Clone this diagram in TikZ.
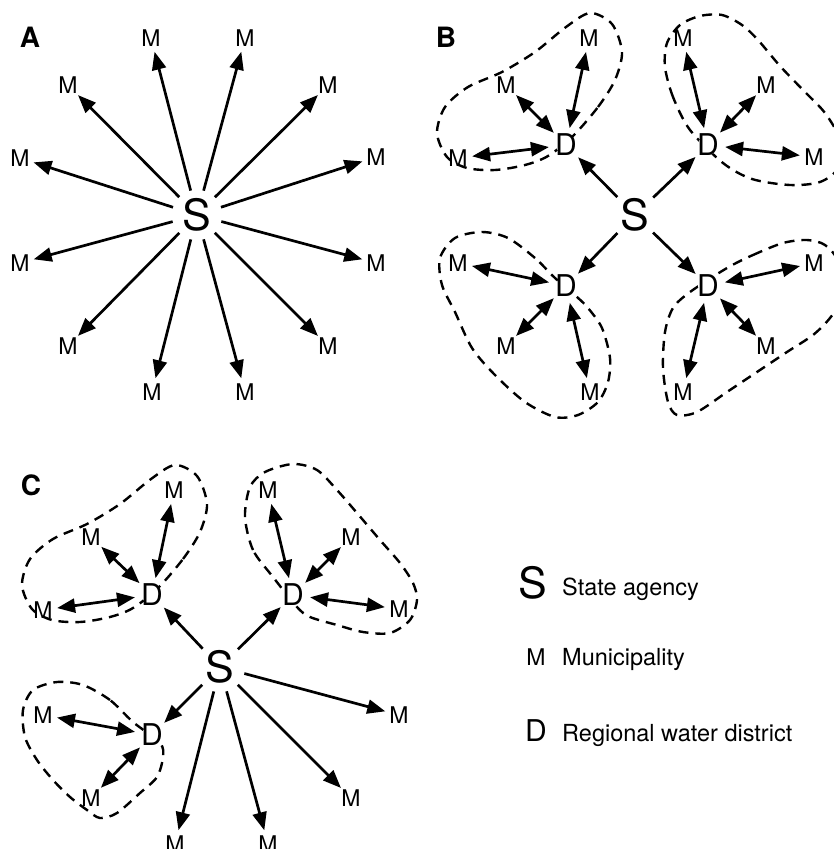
\documentclass[tikz,border=0pt]{standalone}
\usepackage{fontspec}
\setmainfont{TeX Gyre Heros}
\usetikzlibrary{arrows.meta}
\pgfdeclarelayer{back}
\pgfsetlayers{back,main}

\tikzset{
  agency/.style={circle, inner sep=0pt, minimum size=50pt, font=\fontsize{43}{43}\selectfont},
  muni/.style={circle, inner sep=0pt, minimum size=28pt, font=\fontsize{23}{23}\selectfont},
  district/.style={circle, inner sep=0pt, minimum size=34pt, font=\fontsize{30}{30}\selectfont},
  panel/.style={inner sep=0pt, font=\fontsize{28}{28}\selectfont\bfseries},
  tip/.tip={Triangle[length=18pt,width=14pt]},
  oneway/.style={line width=2.7pt, -tip},
  twoway/.style={line width=2.7pt, tip-tip},
  region/.style={line width=2.4pt, dash pattern=on 10pt off 7pt},
  keysym/.style={inner sep=0pt},
  keytext/.style={anchor=base west, inner sep=0pt, font=\fontsize{23.5}{23.5}\selectfont},
}

% municipality positions around a state agency placed at the origin
\def\munilist{1/-46/-177, 2/48/-177, 3/-129/-130, 4/131/-130, 5/-177/-57, 6/179/-58,
  7/-177/48, 8/179/48, 9/-129/131, 10/131/131, 11/-45/177, 12/48/177}

\begin{document}
\begin{tikzpicture}[x=1pt,y=-1pt]
\useasboundingbox (0,0) rectangle (833,849);

% ---------------- A: state agency linked to every municipality
\node[panel] (labA) at (30,37) {A};
\begin{scope}[shift={(197,215)}]
  \node[agency] (aS) at (0,0) {S};
  \foreach \i/\x/\y in \munilist {
    \node[muni] (aM\i) at (\x,\y) {M};
    \draw[oneway] (aS) -- (aM\i);
  }
\end{scope}

% ---------------- B: four regional water districts
\node[panel] (labB) at (446,37) {B};
\begin{scope}[shift={(635,215)}]
  \node[agency] (bS) at (0,0) {S};
  \node[district] (bD1) at (-69,-70) {D};
  \node[district] (bD2) at (73,-70) {D};
  \node[district] (bD3) at (-69,71) {D};
  \node[district] (bD4) at (73,71) {D};
  \foreach \i/\x/\y in \munilist {
    \node[muni] (bM\i) at (\x,\y) {M};
  }
  \foreach \d in {1,2,3,4} \draw[oneway] (bS) -- (bD\d);
  \foreach \d/\m in {1/1,1/3,1/5, 2/2,2/4,2/6, 3/7,3/9,3/11, 4/8,4/10,4/12}
    \draw[twoway] (bD\d) -- (bM\m);
  \begin{pgfonlayer}{back}
    \draw[region] plot[smooth cycle] coordinates {(-62,-79) (-37,-108) (-20,-135) (-13,-163)
      (-23,-191) (-45,-202) (-69,-188) (-100,-163) (-133,-143) (-167,-128) (-190,-108)
      (-198,-82) (-188,-58) (-168,-47) (-140,-45) (-110,-50) (-87,-59)};
    \draw[region] plot[smooth cycle] coordinates {(55,-85) (38,-118) (30,-148) (32,-172)
      (45,-190) (65,-199) (87,-200) (107,-190) (123,-175) (145,-149) (168,-125)
      (190,-102) (205,-75) (203,-47) (185,-33) (155,-30) (117,-36) (88,-52)};
    \draw[region] plot[smooth cycle] coordinates {(-80,63) (-100,43) (-127,23) (-153,17)
      (-180,23) (-195,43) (-193,70) (-180,97) (-163,133) (-140,160) (-110,187)
      (-80,202) (-57,200) (-37,187) (-27,167) (-25,143) (-33,113) (-47,93) (-58,82)};
    \draw[region] plot[smooth cycle] coordinates {(92,53) (118,40) (148,28) (172,25)
      (190,30) (203,47) (205,85) (195,103) (178,120) (152,137) (122,157) (92,177)
      (62,197) (42,200) (33,187) (28,153) (30,117) (38,93) (55,77)};
    \foreach \d in {1,2,3,4} \fill[white] (bD\d) circle (10);
  \end{pgfonlayer}
\end{scope}

% ---------------- C: three districts, the rest linked directly
\node[panel] (labC) at (31,485) {C};
\begin{scope}[shift={(220,667)}]
  \node[agency] (cS) at (0,0) {S};
  \node[district] (cD1) at (-68,-72) {D};
  \node[district] (cD2) at (73,-72) {D};
  \node[district] (cD3) at (-68,68) {D};
  \foreach \i/\x/\y in \munilist {
    \node[muni] (cM\i) at (\x,\y) {M};
  }
  \foreach \d in {1,2,3} \draw[oneway] (cS) -- (cD\d);
  \foreach \m in {8,10,11,12} \draw[oneway] (cS) -- (cM\m);
  \foreach \d/\m in {1/1,1/3,1/5, 2/2,2/4,2/6, 3/7,3/9}
    \draw[twoway] (cD\d) -- (cM\m);
  \begin{pgfonlayer}{back}
    \draw[region] plot[smooth cycle] coordinates {(-62,-79) (-37,-108) (-20,-135) (-13,-163)
      (-23,-191) (-45,-202) (-69,-188) (-100,-163) (-133,-143) (-167,-128) (-190,-108)
      (-198,-82) (-188,-58) (-168,-47) (-140,-45) (-110,-50) (-87,-59)};
    \draw[region] plot[smooth cycle] coordinates {(53,-90) (33,-117) (25,-150) (30,-180)
      (45,-195) (73,-203) (97,-197) (117,-177) (137,-154) (160,-127) (180,-104)
      (193,-84) (197,-67) (190,-47) (170,-34) (143,-35) (117,-42) (90,-50) (77,-60)};
    \draw[region] plot[smooth cycle] coordinates {(-87,55) (-110,33) (-137,18) (-163,15)
      (-187,23) (-197,43) (-195,70) (-183,93) (-167,113) (-150,130) (-133,143)
      (-120,151) (-103,146) (-80,126) (-63,110) (-57,90) (-60,76)};
    \foreach \d in {1,2,3} \fill[white] (cD\d) circle (10);
  \end{pgfonlayer}
\end{scope}

% ---------------- key
\node[keysym, font=\fontsize{43}{43}\selectfont] (kS) at (533,583) {S};
\node[keytext] (kSt) at (562,595) {State agency};
\node[keysym, font=\fontsize{23}{23}\selectfont] (kM) at (536,657) {M};
\node[keytext] (kMt) at (562,665) {Municipality};
\node[keysym, font=\fontsize{30}{30}\selectfont] (kD) at (536,731) {D};
\node[keytext] (kDt) at (562,741) {Regional water district};
\end{tikzpicture}
\end{document}
